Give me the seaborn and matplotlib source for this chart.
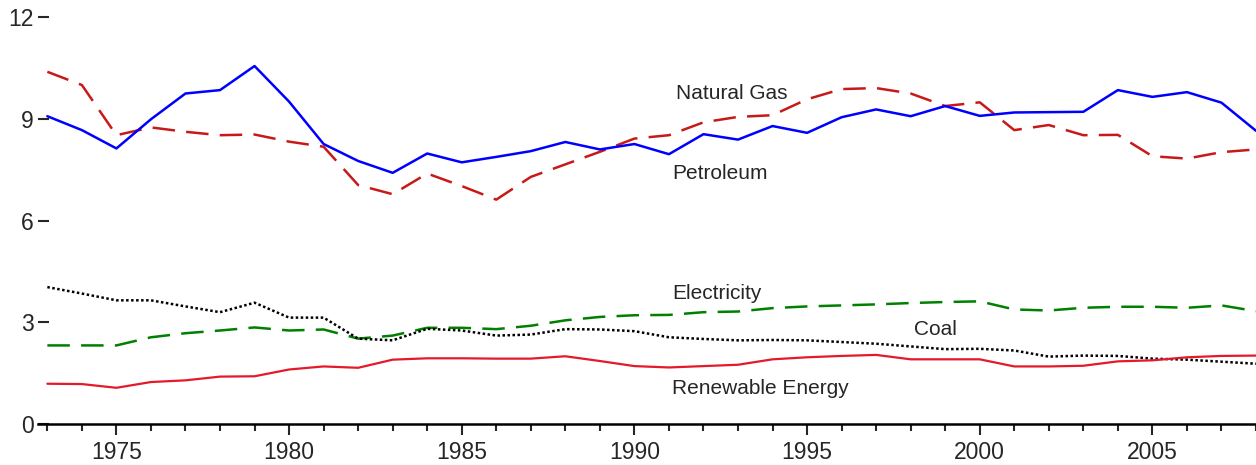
import pandas as pd
import matplotlib.pyplot as plt
import seaborn as sns

# Values
years = list(range(1973, 2009))

petroleum = [9.08, 8.67, 8.13, 8.99, 9.75, 9.85, 10.56, 9.51, 8.26, 7.76,
             7.41, 7.98, 7.72, 7.88, 8.05, 8.32, 8.10, 8.26, 7.96, 8.55,
             8.39, 8.79, 8.59, 9.05, 9.28, 9.08, 9.38, 9.09, 9.19, 9.20,
             9.21, 9.85, 9.65, 9.79, 9.48, 8.65]

natural_gas = [10.39, 10.00, 8.52, 8.75, 8.62, 8.52, 8.54, 8.33, 8.18, 7.05,
               6.78, 7.39, 7.02, 6.62, 7.29, 7.66, 8.03, 8.42, 8.52, 8.90,
               9.06, 9.11, 9.58, 9.88, 9.91, 9.75, 9.38, 9.49, 8.67, 8.82,
               8.52, 8.53, 7.90, 7.83, 8.02, 8.10]

electricity = [2.32, 2.32, 2.32, 2.56, 2.68, 2.76, 2.85, 2.76, 2.79, 2.52,
               2.61, 2.84, 2.84, 2.80, 2.90, 3.06, 3.16, 3.21, 3.22, 3.30,
               3.32, 3.42, 3.47, 3.50, 3.53, 3.57, 3.60, 3.62, 3.38, 3.35,
               3.43, 3.46, 3.46, 3.43, 3.50, 3.33]

coal = [4.04, 3.85, 3.65, 3.65, 3.47, 3.30, 3.58, 3.14, 3.14, 2.52,
        2.47, 2.81, 2.76, 2.61, 2.64, 2.80, 2.79, 2.74, 2.56, 2.51,
        2.47, 2.48, 2.47, 2.42, 2.37, 2.29, 2.21, 2.22, 2.17, 1.99,
        2.02, 2.01, 1.93, 1.90, 1.84, 1.78]

renewable = [1.19, 1.18, 1.07, 1.24, 1.29, 1.40, 1.41, 1.61, 1.70, 1.66,
             1.90, 1.94, 1.94, 1.93, 1.93, 2.00, 1.86, 1.71, 1.67, 1.71,
             1.75, 1.91, 1.97, 2.01, 2.04, 1.91, 1.91, 1.91, 1.70, 1.70,
             1.72, 1.85, 1.88, 1.97, 2.01, 2.02]

df = pd.DataFrame({'Year': years, 'Petroleum': petroleum, 'Natural Gas': natural_gas,
                   'Electricity': electricity, 'Coal': coal, 'Renewable Energy': renewable})

sns.set_style('white')
plt.rcParams['font.family'] = ['Liberation Sans', 'DejaVu Sans']

fig = plt.figure(figsize=(12.56, 4.65), dpi=100)
ax = fig.add_axes([0.030, 0.088, 0.970, 0.875])

sns.lineplot(data=df, x='Year', y='Natural Gas', ax=ax, color='#c81919', lw=1.8,
             linestyle=(0, (9, 4.5)))
sns.lineplot(data=df, x='Year', y='Petroleum', ax=ax, color='#0000ff', lw=1.8)
sns.lineplot(data=df, x='Year', y='Electricity', ax=ax, color='#008000', lw=1.8,
             linestyle=(0, (9, 4.5)))
sns.lineplot(data=df, x='Year', y='Coal', ax=ax, color='black', lw=1.8,
             linestyle=(0, (1, 1)))
sns.lineplot(data=df, x='Year', y='Renewable Energy', ax=ax, color='#e41a2a', lw=1.6)

# labels next to the lines
ax.text(1991.2, 9.75, 'Natural Gas', fontsize=15, va='center')
ax.text(1991.1, 7.39, 'Petroleum', fontsize=15, va='center')
ax.text(1991.1, 3.85, 'Electricity', fontsize=15, va='center')
ax.text(1998.1, 2.78, 'Coal', fontsize=15, va='center')
ax.text(1991.1, 1.05, 'Renewable Energy', fontsize=15, va='center')

ax.set_xlim(1972.72, 2008)
ax.set_ylim(0, 12)
ax.set_xlabel('')
ax.set_ylabel('')
ax.set_xticks(range(1975, 2008, 5))
ax.set_xticks(years, minor=True)
ax.set_yticks([0, 3, 6, 9, 12])

for s in ['top', 'right', 'left']:
    ax.spines[s].set_visible(False)
ax.spines['bottom'].set_linewidth(1.8)
ax.spines['bottom'].set_color('black')

ax.tick_params(axis='x', which='major', direction='out', length=8, width=1.5,
               labelsize=16.5, pad=4, bottom=True)
ax.tick_params(axis='x', which='minor', direction='out', length=5, width=1.5, bottom=True)
ax.tick_params(axis='y', direction='in', length=8, width=1.5, labelsize=16.5, pad=3,
               left=True)

plt.savefig('out.png', dpi=100)
